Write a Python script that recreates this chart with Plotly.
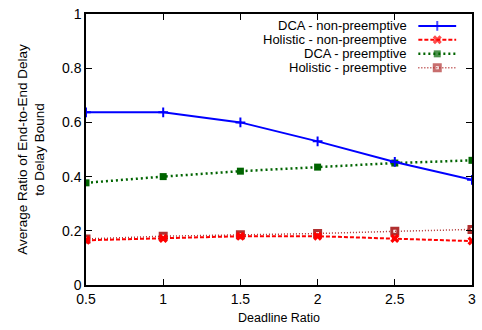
import plotly.graph_objects as go

x = [0.5, 1, 1.5, 2, 2.5, 3]
dca_np = [0.637, 0.637, 0.600, 0.530, 0.454, 0.388]
hol_np = [0.165, 0.172, 0.180, 0.180, 0.172, 0.162]
dca_p = [0.377, 0.400, 0.420, 0.435, 0.450, 0.460]
hol_p = [0.170, 0.180, 0.185, 0.190, 0.198, 0.205]

names = ["DCA - non-preemptive", "Holistic - non-preemptive",
         "DCA - preemptive", "Holistic - preemptive"]
series = [dca_np, hol_np, dca_p, hol_p]
styles = [
    dict(color="#0000ff", dash="solid", width=2, symbol="cross-thin", msize=7, mline=2),
    dict(color="#ff0000", dash="4px,2px", width=2, symbol="x", msize=8, mline=0),
    dict(color="#006400", dash="2px,3px", width=2.5, symbol="square", msize=7, mline=0),
    dict(color="#b03030", dash="1px,2px", width=1.5, symbol="square-open", msize=6, mline=3),
]

fig = go.Figure()
order = [2, 3, 1, 0]
for i in order:
    s = styles[i]
    fig.add_trace(go.Scatter(
        x=x, y=series[i], mode="lines+markers", name=names[i], showlegend=False,
        line=dict(color=s["color"], dash=s["dash"], width=s["width"]),
        marker=dict(symbol=s["symbol"], size=s["msize"], color=s["color"],
                    line=dict(color=s["color"], width=s["mline"])),
    ))

# custom legend (text right-aligned, sample on the right), in paper-like overlay axes
row_y = [0.956, 0.905, 0.853, 0.802]
annotations = []
for i, nm in enumerate(names):
    s = styles[i]
    fig.add_trace(go.Scatter(
        x=[0.861, 0.910, 0.959], y=[row_y[i]] * 3, xaxis="x2", yaxis="y2",
        mode="lines+markers", showlegend=False, hoverinfo="skip",
        line=dict(color=s["color"], dash=s["dash"], width=s["width"]),
        marker=dict(symbol=s["symbol"], size=[0, s["msize"], 0], color=s["color"],
                    line=dict(color=s["color"], width=s["mline"])),
    ))
    annotations.append(dict(
        x=0.838, y=row_y[i], xref="paper", yref="paper", text=nm, showarrow=False,
        xanchor="right", yanchor="middle", font=dict(size=13, color="black")))

fig.update_layout(
    width=482, height=330,
    margin=dict(l=86, r=6, t=12, b=45),
    paper_bgcolor="white", plot_bgcolor="white",
    font=dict(family="Liberation Sans, Arial, sans-serif", size=14, color="black"),
    annotations=annotations,
    xaxis=dict(range=[0.5, 3], tickvals=[0.5, 1, 1.5, 2, 2.5, 3],
               ticktext=["0.5", "1", "1.5", "2", "2.5", "3"],
               ticks="inside", ticklen=6, tickcolor="black", tickwidth=1,
               showline=True, linecolor="black", linewidth=1.5, mirror="ticks",
               showgrid=False, zeroline=False, tickfont=dict(size=14),
               title=dict(text="Deadline Ratio", font=dict(size=12.5), standoff=8)),
    yaxis=dict(range=[0, 1], tickvals=[0, 0.2, 0.4, 0.6, 0.8, 1],
               ticktext=["0", "0.2", "0.4", "0.6", "0.8", "1"],
               ticks="inside", ticklen=6, tickcolor="black", tickwidth=1,
               showline=True, linecolor="black", linewidth=1.5, mirror="ticks",
               showgrid=False, zeroline=False, tickfont=dict(size=14),
               title=dict(text="Average Ratio of End-to-End Delay<br>to Delay Bound",
                          font=dict(size=13.5), standoff=14)),
    xaxis2=dict(range=[0, 1], overlaying="x", visible=False, domain=[0, 1]),
    yaxis2=dict(range=[0, 1], overlaying="y", visible=False),
)

fig.write_html("out.html")
